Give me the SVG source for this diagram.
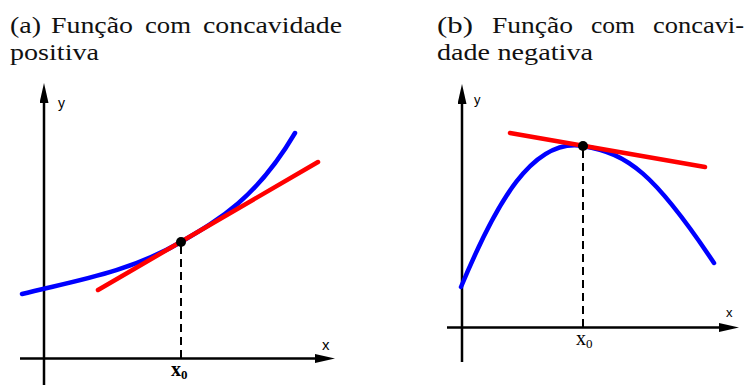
<svg xmlns="http://www.w3.org/2000/svg" width="746" height="385" viewBox="0 0 746 385">
<style>
.cap{font-family:"Liberation Serif","Times New Roman",serif;font-size:24px;fill:#111}
.ax{stroke:#000;stroke-width:2.5;fill:none}
.lab{font-family:"Liberation Sans",Arial,sans-serif;fill:#000}
.blue{stroke:#0000ff;stroke-width:4.5;fill:none;stroke-linecap:round}
.red{stroke:#ff0000;stroke-width:4.5;fill:none;stroke-linecap:round}
.dash{stroke:#000;stroke-width:2;stroke-dasharray:8,5;fill:none}
.x0{font-family:"Liberation Serif","Times New Roman",serif;font-size:20px;fill:#000}
</style>
<defs>
<marker id="arr" viewBox="0 0 20 9" refX="10" refY="4.5" markerWidth="20" markerHeight="9" orient="auto" markerUnits="userSpaceOnUse">
<path d="M0,0 L20,4.5 L0,9 z" fill="#000"/>
</marker>
</defs>
<g id="panel-a">
<g id="caption-a">
<text class="cap" y="33"><tspan x="10" textLength="31" lengthAdjust="spacingAndGlyphs">(a)</tspan><tspan x="51" textLength="82" lengthAdjust="spacingAndGlyphs">Função</tspan><tspan x="145" textLength="46" lengthAdjust="spacingAndGlyphs">com</tspan><tspan x="203" textLength="139" lengthAdjust="spacingAndGlyphs">concavidade</tspan></text>
<text class="cap" x="10" y="60" textLength="89" lengthAdjust="spacingAndGlyphs">positiva</text>
</g>
<g id="axes-a">
<line class="ax" x1="44" y1="385" x2="44" y2="93" marker-end="url(#arr)"/>
<line class="ax" x1="20" y1="358.5" x2="325" y2="358.5" marker-end="url(#arr)"/>
<text class="lab" x="58" y="108" font-size="14">y</text>
<text class="lab" x="322" y="350" font-size="15">x</text>
</g>
<line class="dash" x1="181" y1="246" x2="181" y2="358"/>
<path class="blue" d="M22,294 C75,280.8 128,272.8 181,242 C219,219.9 257,197.6 295,133"/>
<line class="red" x1="98" y1="290" x2="318" y2="162"/>
<circle cx="181" cy="242" r="5" fill="#000"/>
<text class="x0" x="171" y="376" font-weight="bold">x<tspan font-size="13" dy="3">0</tspan></text>
</g>
<g id="panel-b">
<g id="caption-b">
<text class="cap" y="33"><tspan x="437" textLength="36" lengthAdjust="spacingAndGlyphs">(b)</tspan><tspan x="492" textLength="81" lengthAdjust="spacingAndGlyphs">Função</tspan><tspan x="591" textLength="44" lengthAdjust="spacingAndGlyphs">com</tspan><tspan x="653" textLength="91" lengthAdjust="spacingAndGlyphs">concavi-</tspan></text>
<text class="cap" y="60"><tspan x="437" textLength="53" lengthAdjust="spacingAndGlyphs">dade</tspan><tspan x="497.5" textLength="95.5" lengthAdjust="spacingAndGlyphs">negativa</tspan></text>
</g>
<g id="axes-b">
<line class="ax" x1="462" y1="362" x2="462" y2="94" marker-end="url(#arr)"/>
<line class="ax" x1="447" y1="327.5" x2="729" y2="327.5" marker-end="url(#arr)"/>
<text class="lab" x="474" y="104" font-size="13">y</text>
<text class="lab" x="726" y="317" font-size="13">x</text>
</g>
<line class="dash" x1="583" y1="150" x2="583" y2="327"/>
<path class="blue" d="M461,287 C496,203 533,137.3 583,146 C628,153.8 654,173 714,263"/>
<line class="red" x1="510" y1="133" x2="705" y2="167"/>
<circle cx="583" cy="146" r="5" fill="#000"/>
<text class="x0" x="576" y="345">x<tspan font-size="13" dy="3">0</tspan></text>
</g>
</svg>
